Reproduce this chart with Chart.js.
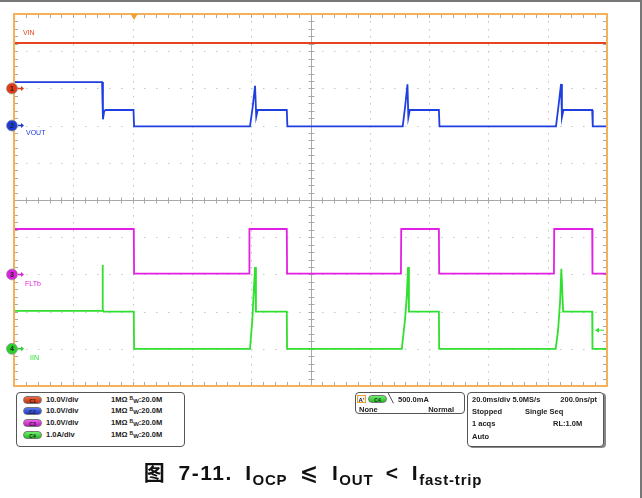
<!DOCTYPE html>
<html>
<head>
<meta charset="utf-8">
<script src="https://cdn.jsdelivr.net/npm/chart.js@4.4.0/dist/chart.umd.min.js"></script>
<style>
html, body { margin: 0; padding: 0; background: #fff; }
#wrap { position: relative; width: 642px; height: 498px; overflow: hidden; font-family: "Liberation Sans", Arial, sans-serif; }
#scope { position: absolute; left: 0; top: 0; }
.box { position: absolute; border: 1px solid #555; border-radius: 4px; background: #fff; box-sizing: border-box; }
.t { position: absolute; font-size: 7.5px; font-weight: bold; color: #222; white-space: nowrap; line-height: 9px; }
.pill { position: absolute; width: 19px; height: 8px; border-radius: 4px; font-size: 5px; line-height: 8px; text-align: center; color: #222; font-weight: bold; box-sizing: border-box; border: 1px solid #777; }
.bw { font-size: 5px; position: relative; top: -2px; }
.bw2 { font-size: 6px; position: relative; top: 1px; }
#caption { position: absolute; left: 0; width: 626px; top: 456px; text-align: center; font-weight: bold; font-size: 21px; color: #111;
  font-family: "Liberation Sans", "DejaVu Sans", "Noto Sans CJK SC", sans-serif; letter-spacing: 1.5px; word-spacing: 5px; white-space: nowrap; }
#caption sub { font-size: 15px; vertical-align: -5px; letter-spacing: 0.8px; }
#caption .le { font-size: 22px; }
#frame { position: absolute; left: 0; top: 0; width: 642px; height: 498px; box-sizing: border-box; border-top: 2px solid #777; border-right: 2px solid #777; pointer-events: none; }
</style>
</head>
<body>
<div id="wrap">
  <canvas id="scope" width="642" height="498"></canvas>

  <div class="box" style="left:16px;top:392px;width:169px;height:55px;"></div>
  <div class="pill" style="left:23px;top:396px;background:linear-gradient(#f06a40,#c8300c);">C1</div>
  <div class="pill" style="left:23px;top:407px;background:linear-gradient(#5a78f0,#1a34c8);">C2</div>
  <div class="pill" style="left:23px;top:419px;background:linear-gradient(#f060f0,#c018c0);">C3</div>
  <div class="pill" style="left:23px;top:431px;background:linear-gradient(#70f070,#1cc01c);">C4</div>
  <div class="t" style="left:46px;top:395px;">10.0V/div</div>
  <div class="t" style="left:46px;top:406px;">10.0V/div</div>
  <div class="t" style="left:46px;top:418px;">10.0V/div</div>
  <div class="t" style="left:46px;top:430px;">1.0A/div</div>
  <div class="t" style="left:111px;top:395px;">1MΩ <span class="bw">B</span><span class="bw2">W</span>:20.0M</div>
  <div class="t" style="left:111px;top:406px;">1MΩ <span class="bw">B</span><span class="bw2">W</span>:20.0M</div>
  <div class="t" style="left:111px;top:418px;">1MΩ <span class="bw">B</span><span class="bw2">W</span>:20.0M</div>
  <div class="t" style="left:111px;top:430px;">1MΩ <span class="bw">B</span><span class="bw2">W</span>:20.0M</div>

  <div class="box" style="left:355px;top:392px;width:110px;height:22px;"></div>
  <div class="t" style="left:357px;top:395px;width:9px;height:8px;line-height:8px;border:1px solid #f0a030;background:#f4f4f4;box-sizing:border-box;font-size:6px;text-align:center;">A'</div>
  <div class="pill" style="left:368px;top:395px;background:linear-gradient(#70f070,#1cc01c);">C4</div>
  <div class="t" style="left:388px;top:394px;font-weight:normal;font-size:9px;">╲</div>
  <div class="t" style="left:398px;top:395px;">500.0mA</div>
  <div class="t" style="left:359px;top:405px;">None</div>
  <div class="t" style="left:426px;top:405px;width:28px;text-align:right;">Normal</div>

  <div class="box" style="left:467px;top:392px;width:137px;height:55px;box-shadow:2px 1px 0 #888;"></div>
  <div class="t" style="left:472px;top:395px;">20.0ms/div 5.0MS/s</div>
  <div class="t" style="left:550px;top:395px;width:47px;text-align:right;">200.0ns/pt</div>
  <div class="t" style="left:472px;top:407px;">Stopped</div>
  <div class="t" style="left:525px;top:407px;">Single Seq</div>
  <div class="t" style="left:472px;top:419px;">1 acqs</div>
  <div class="t" style="left:553px;top:419px;">RL:1.0M</div>
  <div class="t" style="left:472px;top:432px;">Auto</div>

  <div id="caption">图 7-11. I<sub>OCP</sub> <span class="le">⩽</span> I<sub>OUT</sub> &lt; I<sub>fast-trip</sub></div>
  <div id="frame"></div>
</div>

<script>
// time in ms (20 ms/div), values in V or A
const vinT = [0, 200];
const vinV = [12.2, 12.2];

const voutT = [0, 29.7, 30.0, 30.4, 31.0, 40.3, 40.5, 79.6, 80.5, 81.3, 81.7, 82.2, 92.0, 92.2,
               131.1, 131.9, 132.7, 133.0, 133.5, 143.3, 143.5,
               182.8, 183.6, 184.5, 184.8, 185.3, 195.0, 195.2, 200];
const voutV = [11.7, 11.7, 1.7, 3.9, 4.2, 4.2, -0.2, -0.2, 5.0, 10.7, 2.4, 4.2, 4.2, -0.2,
               -0.2, 5.0, 11.1, 2.2, 4.2, 4.2, -0.2,
               -0.2, 5.0, 11.2, 2.3, 4.2, 4.2, -0.2, -0.2];

const fltT = [0, 40.4, 40.5, 79.3, 79.4, 92.0, 92.1, 130.5, 130.6, 143.3, 143.4, 182.1, 182.2, 195.0, 195.1, 200];
const fltV = [12.2, 12.2, 0.2, 0.2, 12.2, 12.2, 0.2, 0.2, 12.2, 12.2, 0.2, 0.2, 12.2, 12.2, 0.2, 0.2];

const iinT = [0, 29.7, 29.85, 30.0, 30.2, 40.4, 40.5, 79.6, 80.4, 80.7, 81.3, 81.6, 92.0, 92.1,
              130.8, 131.9, 132.5, 132.9, 133.2, 143.3, 143.4,
              182.7, 183.5, 184.2, 184.6, 185.2, 195.0, 195.1, 200];
const iinA = [1.02, 1.02, 2.25, 1.05, 1.0, 1.0, 0, 0, 0.8, 1.3, 2.2, 1.0, 1.0, 0,
              0, 0.8, 1.45, 2.2, 1.0, 1.0, 0,
              0, 0.5, 1.3, 2.15, 1.0, 1.0, 0, 0];

const chNames = ['VIN', 'VOUT', 'FLTb', 'IIN'];
const chPerDiv = [10, 10, 10, 1];
const chGround = [8, 7, 3, 1];        // ground marker position, divisions from bottom
const chColors = ['#e8431f', '#1f3fe0', '#e41fe4', '#2fe02f'];
const chMarker = ['#e23a14', '#1c3ad8', '#e020e0', '#28d028'];
const trigTime = 40.5;
const trigLevel = 0.5;                // A on C4

function toDiv(ts, vs, ch) {
    return ts.map((t, i) => ({ x: t, y: chGround[ch] + vs[i] / chPerDiv[ch] }));
}

const graticule = {
    id: 'graticule',
    beforeDatasetsDraw(chart) {
        const ctx = chart.ctx;
        const a = chart.chartArea;
        const xs = chart.scales.x, ys = chart.scales.y;
        const w = a.right - a.left, h = a.bottom - a.top;
        ctx.save();
        ctx.fillStyle = '#c4c4c4';
        for (let k = 1; k < 10; k++) {
            if (k === 5) continue;
            const x = Math.round(xs.getPixelForValue(k * 20));
            for (let j = 1; j < 50; j++) ctx.fillRect(x, Math.round(a.top + j * h / 50), 1, 1.5);
            const y = Math.round(ys.getPixelForValue(k));
            for (let j = 1; j < 50; j++) ctx.fillRect(Math.round(a.left + j * w / 50), y, 1.5, 1);
        }
        // center cross
        const cx = Math.round(xs.getPixelForValue(100)) + 0.5;
        const cy = Math.round(ys.getPixelForValue(5)) + 0.5;
        ctx.strokeStyle = '#c9c3b6';
        ctx.lineWidth = 1;
        ctx.beginPath();
        ctx.moveTo(cx, a.top); ctx.lineTo(cx, a.bottom);
        ctx.moveTo(a.left, cy); ctx.lineTo(a.right, cy);
        for (let j = 1; j < 50; j++) {
            const yy = Math.round(a.top + j * h / 50) + 0.5;
            ctx.moveTo(cx - 3, yy); ctx.lineTo(cx + 3, yy);
            const xx = Math.round(a.left + j * w / 50) + 0.5;
            ctx.moveTo(xx, cy - 3); ctx.lineTo(xx, cy + 3);
        }
        // edge ticks
        ctx.strokeStyle = '#a8a8a8';
        for (let j = 1; j < 50; j++) {
            const xx = Math.round(a.left + j * w / 50) + 0.5;
            ctx.moveTo(xx, a.top); ctx.lineTo(xx, a.top + 4);
            ctx.moveTo(xx, a.bottom); ctx.lineTo(xx, a.bottom - 4);
            const yy = Math.round(a.top + j * h / 50) + 0.5;
            ctx.moveTo(a.left, yy); ctx.lineTo(a.left + 4, yy);
            ctx.moveTo(a.right, yy); ctx.lineTo(a.right - 4, yy);
        }
        ctx.stroke();
        ctx.restore();
    },
    afterDatasetsDraw(chart) {
        const ctx = chart.ctx;
        const a = chart.chartArea;
        const xs = chart.scales.x, ys = chart.scales.y;
        ctx.save();
        // border
        ctx.strokeStyle = '#f3b25a';
        ctx.lineWidth = 2;
        ctx.strokeRect(a.left, a.top, a.right - a.left, a.bottom - a.top);
        // trace names
        ctx.font = '7px "Liberation Sans", Arial, sans-serif';
        ctx.textBaseline = 'middle';
        const lab = [[23, 9.5], [26, 6.8], [25, 2.75], [30, 0.75]];
        chNames.forEach((n, i) => {
            ctx.fillStyle = chColors[i];
            ctx.fillText(n, lab[i][0], ys.getPixelForValue(lab[i][1]));
        });
        // channel ground markers
        chGround.forEach((g, i) => {
            const y = ys.getPixelForValue(g);
            const x = a.left - 2;
            ctx.fillStyle = chMarker[i];
            ctx.beginPath();
            ctx.moveTo(x + 6, y - 0.75); ctx.lineTo(x + 9, y - 0.75); ctx.lineTo(x + 9, y - 2.5);
            ctx.lineTo(x + 12, y); ctx.lineTo(x + 9, y + 2.5); ctx.lineTo(x + 9, y + 0.75); ctx.lineTo(x + 6, y + 0.75);
            ctx.fill();
            ctx.beginPath();
            ctx.arc(x, y, 5.5, 0, Math.PI * 2);
            ctx.fill();
            ctx.strokeStyle = '#999';
            ctx.lineWidth = 0.8;
            ctx.stroke();
            ctx.fillStyle = '#222';
            ctx.font = 'bold 7px "Liberation Sans", Arial, sans-serif';
            ctx.textAlign = 'center';
            ctx.fillText(String(i + 1), x, y + 0.5);
            ctx.textAlign = 'left';
        });
        // trigger position
        const tx = xs.getPixelForValue(trigTime);
        ctx.fillStyle = '#f0a030';
        ctx.beginPath();
        ctx.moveTo(tx - 3.5, a.top); ctx.lineTo(tx + 3.5, a.top); ctx.lineTo(tx, a.top + 6);
        ctx.fill();
        // trigger level
        const ty = ys.getPixelForValue(chGround[3] + trigLevel / chPerDiv[3]);
        ctx.fillStyle = chColors[3];
        ctx.beginPath();
        ctx.moveTo(a.right - 12, ty); ctx.lineTo(a.right - 8, ty - 2.5); ctx.lineTo(a.right - 8, ty + 2.5);
        ctx.fill();
        ctx.fillRect(a.right - 8, ty - 0.5, 5, 1);
        ctx.restore();
    }
};

const ds = (data, i) => ({
    label: chNames[i],
    data: data,
    borderColor: chColors[i],
    borderWidth: 1.8,
    pointRadius: 0,
    tension: 0,
    fill: false
});

new Chart(document.getElementById('scope').getContext('2d'), {
    type: 'line',
    data: {
        datasets: [
            ds(toDiv(vinT, vinV, 0), 0),
            ds(toDiv(voutT, voutV, 1), 1),
            ds(toDiv(fltT, fltV, 2), 2),
            ds(toDiv(iinT, iinA, 3), 3)
        ]
    },
    options: {
        responsive: false,
        animation: false,
        devicePixelRatio: 1,
        layout: { padding: { left: 14, right: 35, top: 14, bottom: 112 } },
        scales: {
            x: { type: 'linear', min: 0, max: 200, display: false },
            y: { type: 'linear', min: 0, max: 10, display: false }
        },
        plugins: { legend: { display: false }, tooltip: { enabled: false } }
    },
    plugins: [graticule]
});
</script>
</body>
</html>
